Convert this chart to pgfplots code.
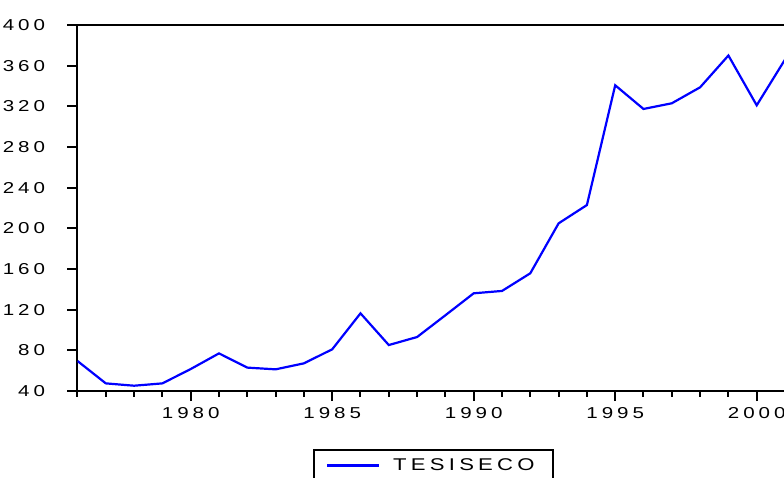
\documentclass[border=0pt]{standalone}
\usepackage{fontspec}
\setmainfont{Liberation Sans}[FakeStretch=1.3, LetterSpace=25]
\usepackage{pgfplots}
\pgfplotsset{compat=1.18}
\begin{document}
\begin{tikzpicture}
\useasboundingbox (-77.5bp,-87bp) rectangle (706.5bp,391bp);
\begin{axis}[
  scale only axis,
  width=707.5bp, height=366bp,
  xmin=1976, xmax=2001, ymin=40, ymax=400,
  xtick={1980,1985,1990,1995,2000},
  minor xtick={1976,1977,...,2001},
  ytick={40,80,...,400},
  tick pos=left,
  tick align=outside,
  major tick length=10bp,
  minor tick length=5.5bp,
  every tick/.append style={black, line width=2bp},
  every minor tick/.append style={black, line width=2bp},
  axis line style={line width=2bp},
  /pgf/number format/assume math mode=true,
  /pgf/number format/1000 sep={},
  tick label style={font=\fontsize{15.8bp}{18bp}\selectfont, black},
  y tick label style={xshift=-19bp},
  x tick label style={yshift=-3bp},
  legend style={at={(0.3329,-0.1585)}, anchor=north west, draw=black, line width=1.8bp,
    inner xsep=12bp, inner ysep=9bp, font=\fontsize{17bp}{20bp}\selectfont,
    nodes={inner sep=0pt}},
  legend image code/.code={\draw[#1, line width=2.2bp] (0bp,0bp) -- (52bp,0bp);},
]
\addplot[color={rgb,255:red,0;green,0;blue,255}, line width=2.2bp] coordinates {
(1976,69.5) (1977,47.5) (1978,45.2) (1979,47.5) (1980,61.6) (1981,77)
(1982,63) (1983,61.3) (1984,67.2) (1985,81) (1986,116.4) (1987,85.2)
(1988,93.1) (1989,114.5) (1990,136.1) (1991,138.4) (1992,155.8) (1993,204.9)
(1994,222.9) (1995,340.7) (1996,317.4) (1997,323) (1998,338.7) (1999,370)
(2000,321) (2001,366)
};
\addlegendentry{\kern13bp TESISECO\kern6bp}
\end{axis}
\end{tikzpicture}
\end{document}
